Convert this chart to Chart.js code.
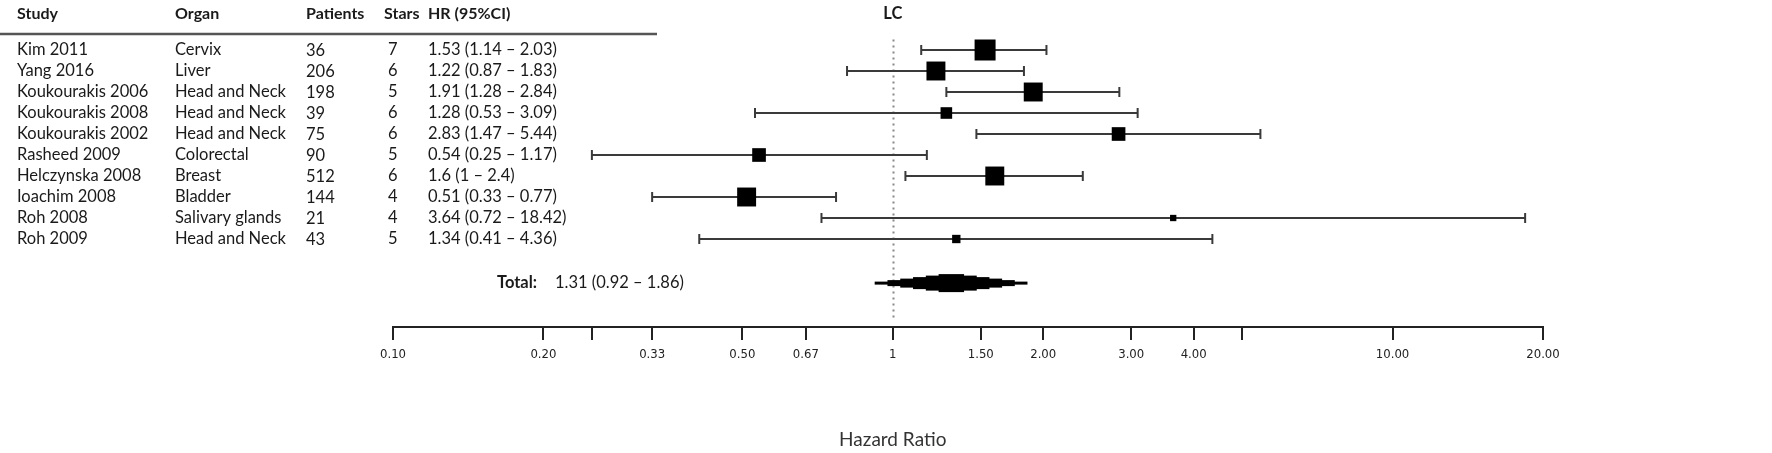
<!DOCTYPE html>
<html>
<head>
<meta charset="utf-8">
<title>LC forest plot</title>
<script src="https://cdn.jsdelivr.net/npm/chart.js@4.4.1/dist/chart.umd.min.js"></script>
<style>
  html, body { margin: 0; padding: 0; background: #fff; }
  #wrap { width: 1772px; height: 453px; position: relative; }
</style>
</head>
<body>
<div id="wrap"><canvas id="chart"></canvas></div>
<script>
// Study table
const studies = ['Kim 2011', 'Yang 2016', 'Koukourakis 2006', 'Koukourakis 2008', 'Koukourakis 2002',
  'Rasheed 2009', 'Helczynska 2008', 'Ioachim 2008', 'Roh 2008', 'Roh 2009'];
const organs = ['Cervix', 'Liver', 'Head and Neck', 'Head and Neck', 'Head and Neck',
  'Colorectal', 'Breast', 'Bladder', 'Salivary glands', 'Head and Neck'];
const patients = [36, 206, 198, 39, 75, 90, 512, 144, 21, 43];
const stars = [7, 6, 5, 6, 6, 5, 6, 4, 4, 5];
const hrLabels = ['1.53 (1.14 \u2013 2.03)', '1.22 (0.87 \u2013 1.83)', '1.91 (1.28 \u2013 2.84)',
  '1.28 (0.53 \u2013 3.09)', '2.83 (1.47 \u2013 5.44)', '0.54 (0.25 \u2013 1.17)', '1.6 (1 \u2013 2.4)',
  '0.51 (0.33 \u2013 0.77)', '3.64 (0.72 \u2013 18.42)', '1.34 (0.41 \u2013 4.36)'];

// Plotted estimates
const hr = [1.53, 1.22, 1.91, 1.28, 2.83, 0.54, 1.6, 0.51, 3.64, 1.34];
const ciLow = [1.14, 0.81, 1.28, 0.53, 1.47, 0.25, 1.06, 0.33, 0.72, 0.41];
const ciHigh = [2.03, 1.83, 2.84, 3.09, 5.44, 1.17, 2.4, 0.77, 18.42, 4.36];
const weights = [17.7, 14.4, 14.4, 5.4, 7.5, 7.5, 14.4, 14.4, 1.6, 2.8];

// Pooled result
const totalCI = [0.92, 1.31, 1.86];
const totalLabel = '1.31 (0.92 \u2013 1.86)';

// Axis
const tickValues = [0.1, 0.2, 0.25, 0.33, 0.5, 0.67, 1, 1.5, 2, 3, 4, 5, 10, 20];
const tickLabels = ['0.10', '0.20', '', '0.33', '0.50', '0.67', '1', '1.50', '2.00', '3.00', '4.00', '', '10.00', '20.00'];

const TOTAL_ROW = 11.1;
const TEXT_FONT = 'Lato, "Open Sans", sans-serif';
const INK = '#1a1a1a';

const rows = studies.map((s, i) => i);

// whisker per study, drawn as its own short line
const whiskerSets = rows.map(i => ({
  type: 'line',
  data: [{ x: ciLow[i], y: i }, { x: ciHigh[i], y: i }],
  borderColor: '#3a3a3a',
  borderWidth: 2,
  pointRadius: 0,
  order: 3,
}));

const forestPlugin = {
  id: 'forest',
  beforeDatasetsDraw(chart) {
    const { ctx, scales: { x, y } } = chart;
    // dotted line of no effect
    ctx.save();
    ctx.strokeStyle = '#888';
    ctx.lineWidth = 2;
    ctx.setLineDash([2, 4]);
    ctx.beginPath();
    const px = Math.round(x.getPixelForValue(1)) + 0.5;
    ctx.moveTo(px, y.getPixelForValue(-0.5));
    ctx.lineTo(px, chart.chartArea.bottom - 6);
    ctx.stroke();
    ctx.restore();
  },
  afterDatasetsDraw(chart) {
    const { ctx, scales: { x, y } } = chart;
    ctx.save();

    // pooled estimate as a stepped diamond
    const [lo, est, hi] = totalCI.map(v => Math.log10(v));
    const yc = y.getPixelForValue(TOTAL_ROW);
    const steps = 6, maxH = 18;
    ctx.fillStyle = '#000';
    for (let k = 1; k <= steps; k++) {
      const f = 1 - (k - 1) / steps;
      const x0 = x.getPixelForValue(Math.pow(10, est + (lo - est) * f));
      const x1 = x.getPixelForValue(Math.pow(10, est + (hi - est) * f));
      const h = Math.max(3, maxH * k / steps);
      ctx.fillRect(x0, yc - h / 2, x1 - x0, h);
    }

    // table
    const cols = [17, 175, 306, 388, 428];
    ctx.fillStyle = INK;
    ctx.textBaseline = 'middle';
    ctx.textAlign = 'left';
    ctx.font = 'bold 16px ' + TEXT_FONT;
    ['Study', 'Organ', 'Patients', 'Stars', 'HR (95%CI)'].forEach((t, j) => {
      ctx.fillText(t, j === 3 ? 384 : cols[j], 14);
    });
    ctx.strokeStyle = '#555';
    ctx.lineWidth = 2.5;
    ctx.beginPath();
    ctx.moveTo(0, 34);
    ctx.lineTo(657, 34);
    ctx.stroke();

    ctx.font = '16.5px ' + TEXT_FONT;
    rows.forEach(i => {
      const py = y.getPixelForValue(i);
      ctx.fillText(studies[i], cols[0], py);
      ctx.fillText(organs[i], cols[1], py);
      ctx.fillText(String(patients[i]), cols[2], py + 1);
      ctx.fillText(String(stars[i]), cols[3], py);
      ctx.fillText(hrLabels[i], cols[4], py);
    });

    ctx.font = 'bold 16.5px ' + TEXT_FONT;
    ctx.fillText('Total:', 497, yc);
    ctx.font = '16.5px ' + TEXT_FONT;
    ctx.fillText(totalLabel, 555, yc);

    // titles centred on HR = 1
    const x1 = x.getPixelForValue(1);
    ctx.textAlign = 'center';
    ctx.font = 'bold 16.5px ' + TEXT_FONT;
    ctx.fillText('LC', x1, 14);
    ctx.font = '19px ' + TEXT_FONT;
    ctx.fillStyle = '#333';
    ctx.fillText('Hazard Ratio', x1, 440);
    ctx.restore();
  },
};

new Chart(document.getElementById('chart'), {
  type: 'scatter',
  data: {
    datasets: [
      {
        label: 'HR',
        data: rows.map(i => ({ x: hr[i], y: i })),
        pointStyle: 'rect',
        pointRadius: rows.map(i => 21 * Math.sqrt(weights[i] / 17.7) / Math.SQRT2),
        backgroundColor: '#000',
        borderColor: '#000',
        borderWidth: 0,
        order: 1,
      },
      {
        label: 'caps',
        data: rows.map(i => ({ x: ciLow[i], y: i })).concat(rows.map(i => ({ x: ciHigh[i], y: i }))),
        pointStyle: 'line',
        rotation: 90,
        pointRadius: 5,
        borderColor: '#3a3a3a',
        borderWidth: 2,
        order: 2,
      },
      ...whiskerSets,
    ],
  },
  options: {
    responsive: true,
    maintainAspectRatio: false,
    animation: false,
    events: [],
    layout: { padding: { left: 393, right: 229, top: 29, bottom: 0 } },
    plugins: { legend: { display: false }, tooltip: { enabled: false } },
    scales: {
      x: {
        type: 'logarithmic',
        min: 0.1,
        max: 20,
        afterBuildTicks: s => { s.ticks = tickValues.map(v => ({ value: v })); },
        afterFit: s => { s.height = 126; },
        border: { display: true, color: '#222', width: 2 },
        grid: { display: true, drawOnChartArea: false, drawTicks: true, tickLength: 13, color: '#222', lineWidth: 2 },
        ticks: {
          autoSkip: false,
          maxRotation: 0,
          padding: 7,
          color: '#222',
          font: { family: '"DejaVu Sans Condensed", "DejaVu Sans", sans-serif', size: 13 },
          callback: (v, i) => tickLabels[i],
        },
      },
      y: {
        type: 'linear',
        min: -1,
        max: 13.19,
        reverse: true,
        display: false,
      },
    },
  },
  plugins: [forestPlugin],
});
</script>
</body>
</html>
